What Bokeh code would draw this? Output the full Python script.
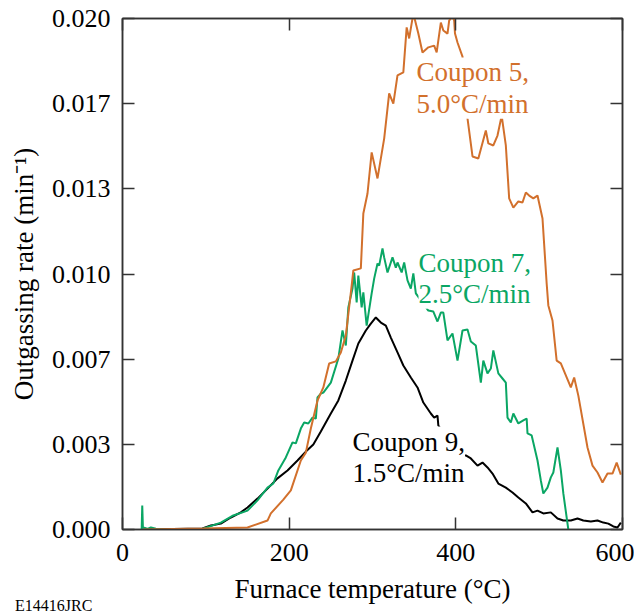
import numpy as np
from bokeh.plotting import figure
from bokeh.layouts import column
from bokeh.models import (LinearAxis, FixedTicker, PrintfTickFormatter, Label, Range1d,
                          CustomJSTickFormatter, Div)
from bokeh.embed import file_html
from bokeh.resources import INLINE

# ---------------- data ----------------
x_ticks = [0, 200, 400, 600]
y_ticks = [0.0, 0.003333, 0.006667, 0.01, 0.013333, 0.016667, 0.02]

# Coupon 5, 5.0 C/min  (temperature degC, rate in 1e-3 min^-1)
c5_temp = [25, 97, 150, 174, 178, 193, 202, 214, 220, 226,
           234, 241, 248, 256, 262, 268, 275, 277, 286, 289,
           294, 299, 306, 314, 320, 325, 330, 337, 341, 344,
           349, 355, 360, 367, 374, 377, 382, 385, 390, 392,
           396, 398, 399, 402, 408, 414, 420, 427, 436, 439,
           445, 450, 455, 460, 464, 469, 475, 480, 484, 488,
           493, 498, 504, 509, 511, 516, 521, 526, 538, 542,
           547, 558, 564, 570, 576, 582, 588, 593, 598]
c5_rate = [0, 0.04, 0.08, 0.35, 0.63, 1.17, 1.53, 2.70, 3.01, 3.95,
           5.05, 5.56, 6.50, 6.58, 6.93, 7.59, 9.55, 10.14, 10.22, 12.37,
           13.15, 14.76, 13.74, 15.30, 17.07, 16.67, 17.77, 17.89, 19.65, 19.22,
           20.2, 19.41, 18.67, 18.87, 18.94, 18.67, 19.84, 19.53, 19.41, 19.92,
           20.1, 19.92, 19.41, 19.06, 18.51, 16.09, 14.60, 14.52, 15.62, 15.11,
           15.03, 15.42, 16.20, 15.03, 12.96, 12.60, 12.84, 12.80, 13.19, 13.07,
           12.96, 13.07, 12.17, 9.63, 8.77, 8.18, 6.61, 6.50, 5.56, 5.95,
           5.24, 3.21, 2.50, 2.23, 1.84, 2.19, 2.19, 2.62, 2.15]

# Coupon 7, 2.5 C/min
c7_temp = [23, 23.7, 24.5, 27, 30, 34, 40, 50, 94,
           118, 133, 150, 162, 174, 181, 187, 196, 204, 208,
           214, 218, 223, 228, 232, 234, 238, 241, 250, 259,
           264, 268, 271, 276, 278, 281, 283, 287, 289, 293,
           299, 302, 306, 308, 312, 314, 318, 324, 328, 330,
           335, 338, 342, 346, 349, 352, 367, 373, 378, 382,
           385, 390, 396, 402, 408, 414, 418, 424, 430, 433,
           438, 442, 445, 451, 456, 460, 462, 466, 469, 475,
           481, 485, 486, 491, 498, 502, 505, 510, 514, 517,
           522, 526, 529, 535]
c7_rate = [0, 0.94, 0.08, 0.06, 0.02, 0.08, 0.03, 0, 0,
           0.27, 0.55, 0.74, 1.14, 1.64, 1.80, 2.31, 2.82, 3.41, 3.37,
           3.95, 4.19, 4.15, 4.38, 4.34, 5.17, 5.32, 5.36, 5.75, 6.69,
           7.79, 7.20, 8.69, 9.43, 10.06, 8.89, 9.94, 8.69, 9.28, 7.98,
           9.24, 9.82, 10.41, 10.33, 11.00, 10.65, 10.06, 10.65, 10.25, 10.45,
           10.06, 10.45, 9.75, 9.43, 10.02, 9.24, 8.57, 8.53, 8.14, 8.49,
           8.49, 7.40, 7.67, 6.61, 7.79, 7.83, 7.36, 7.20, 5.75, 6.61,
           6.11, 6.30, 7.01, 6.11, 5.91, 5.75, 4.38, 4.19, 4.54, 4.15,
           4.27, 4.34, 3.76, 3.68, 2.70, 1.92, 1.41, 1.64, 2.04, 2.23,
           3.21, 2.31, 1.41, 0]

# Coupon 9, 1.5 C/min
c9_temp = [25, 96, 106, 118, 130, 142, 150, 162, 174, 186,
           198, 210, 220, 229, 238, 250, 259, 268, 276, 283,
           292, 298, 304, 310, 316, 322, 330, 337, 346, 354,
           361, 370, 374, 378, 379, 406, 412, 418, 426, 432,
           438, 444, 451, 460, 468, 475, 484, 492, 498, 505,
           514, 522, 529, 538, 546, 553, 562, 570, 577, 583,
           589, 594, 598]
c9_rate = [0, 0.04, 0.16, 0.23, 0.47, 0.67, 0.86, 1.21, 1.60, 2.00,
           2.31, 2.70, 3.05, 3.33, 3.84, 4.54, 5.05, 5.83, 6.61, 7.28,
           7.79, 8.06, 8.30, 8.10, 7.98, 7.51, 6.93, 6.42, 5.95, 5.56,
           4.97, 4.54, 4.38, 4.46, 4.07, 2.90, 2.90, 2.78, 2.50, 2.62,
           2.43, 2.19, 1.80, 1.64, 1.45, 1.25, 1.02, 0.67, 0.74, 0.63,
           0.67, 0.43, 0.35, 0.35, 0.43, 0.35, 0.31, 0.35, 0.27, 0.23,
           0.12, 0.08, 0.27]

ORANGE = "#D2702C"
GREEN = "#0AA664"
AXIS = "#333333"
FONT = "Liberation Serif"

# ---------------- figure ----------------
p = figure(width=634, height=612, x_range=Range1d(0, 600), y_range=Range1d(0, 0.02),
           output_backend="svg", toolbar_location=None,
           min_border_left=122, min_border_right=12, min_border_top=18, min_border_bottom=83)
p.background_fill_color = "white"
p.border_fill_color = "white"
p.xgrid.grid_line_color = None
p.ygrid.grid_line_color = None
p.outline_line_color = AXIS
p.outline_line_width = 1.5


def style(ax, ticks, show_labels):
    ax.ticker = FixedTicker(ticks=ticks)
    ax.major_tick_in = 12
    ax.major_tick_out = 0
    ax.minor_tick_in = 0
    ax.minor_tick_out = 0
    ax.axis_line_color = AXIS
    ax.axis_line_width = 1.5
    ax.major_tick_line_color = AXIS
    ax.major_tick_line_width = 1.5
    ax.major_label_text_font = FONT
    ax.major_label_text_color = "black"
    ax.major_label_text_font_size = "26px"
    ax.axis_label_text_font = FONT
    ax.axis_label_text_font_style = "normal"
    ax.axis_label_text_color = "black"
    if not show_labels:
        ax.formatter = CustomJSTickFormatter(code="return ''")
        ax.major_label_standoff = 0


xa = p.xaxis[0]
style(xa, x_ticks, True)
xa.major_label_standoff = 14
xa.axis_label = "Furnace temperature (°C)"
xa.axis_label_text_font_size = "27px"
xa.axis_label_standoff = 10

ya = p.yaxis[0]
style(ya, y_ticks, True)
ya.formatter = PrintfTickFormatter(format="%.3f")
ya.major_label_standoff = 12
ya.axis_label = "Outgassing rate (min⁻¹)"
ya.axis_label_text_font_size = "27px"
ya.axis_label_standoff = 10

top = LinearAxis()
style(top, x_ticks, False)
p.add_layout(top, "above")
right = LinearAxis()
style(right, y_ticks, False)
p.add_layout(right, "right")

p.line(c9_temp, np.array(c9_rate) * 1e-3, line_color="black", line_width=2)
p.line(c7_temp, np.array(c7_rate) * 1e-3, line_color=GREEN, line_width=2)
p.line(c5_temp, np.array(c5_rate) * 1e-3, line_color=ORANGE, line_width=2)

for (lx, ly, txt, col) in [(352.8, 0.018474, "Coupon 5,\n5.0°C/min", ORANGE),
                           (355.2, 0.011037, "Coupon 7,\n2.5°C/min", GREEN),
                           (276.0, 0.004031, "Coupon 9,\n1.5°C/min", "black")]:
    p.add_layout(Label(x=lx, y=ly, text=txt, text_color=col, text_font=FONT,
                       text_font_size="27px", text_baseline="top", text_align="left",
                       text_line_height=1.04, background_fill_color="white"))

# figure code below the plot, overlapping the bottom edge like the original
tag = Div(text="E14416JRC", width=120, height=13, margin=(-13, 0, 0, 15),
          styles={"font-family": "Liberation Serif", "font-size": "16px",
                  "line-height": "13px", "color": "black", "overflow": "hidden",
                  "white-space": "nowrap"})

layout = column(p, tag, spacing=0)

open("out.html", "w").write(file_html(layout, INLINE))
